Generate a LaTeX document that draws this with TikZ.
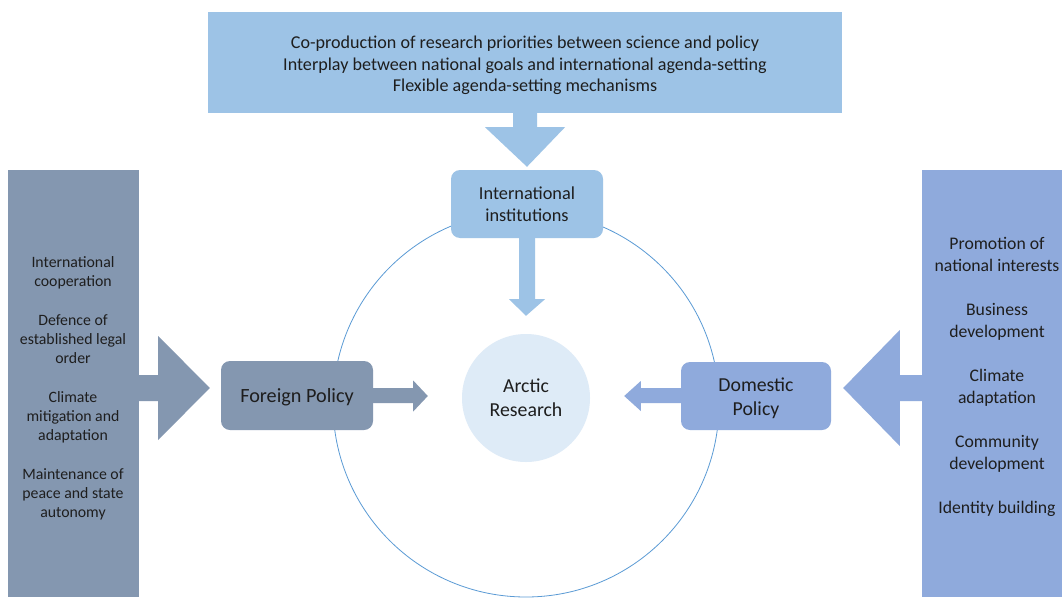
\documentclass[tikz,border=0pt]{standalone}
\usepackage{fontspec}
\setmainfont{Carlito}
\usetikzlibrary{calc}
\definecolor{topblue}{HTML}{9DC3E6}
\definecolor{slate}{HTML}{8497B0}
\definecolor{periw}{HTML}{8FAADC}
\definecolor{pale}{HTML}{DEEBF7}
\definecolor{ring}{HTML}{5B9BD5}
\definecolor{txt}{HTML}{1E1E1E}
\begin{document}
\begin{tikzpicture}[x=1pt,y=-1pt,
  box/.style={draw=none, inner sep=0pt, align=center, text=txt},
  rbox/.style={box, rounded corners=9pt}]
\useasboundingbox (0,0) rectangle (1062,597);
\fill[white] (0,0) rectangle (1062,597);

% big ring
\node[draw=ring, line width=0.8pt, circle, minimum size=386pt, inner sep=0pt] (ringc) at (526,404) {};

% columns
\node[box, fill=slate, minimum width=131pt, minimum height=427pt] (lc) at (73.5,383.5) {};
\node[box, fill=periw, minimum width=140pt, minimum height=427pt] (rc) at (992,383.5) {};

\node[box, font=\fontsize{15.8}{19}\selectfont] (lct) at (73,388)
 {International\\cooperation\\[20pt]Defence of\\established legal\\order\\[20pt]Climate\\mitigation and\\adaptation\\[20pt]Maintenance of\\peace and state\\autonomy};
\node[box, font=\fontsize{17.7}{22}\selectfont] (rct) at (997,376.5)
 {Promotion of\\national interests\\[22pt]Business\\development\\[22pt]Climate\\adaptation\\[22pt]Community\\development\\[22pt]Identity building};

% top box
\node[box, fill=topblue, minimum width=634pt, minimum height=101pt] (top) at (525,62.5) {};
\node[box, font=\fontsize{18.1}{21.5}\selectfont] (topt) at (525,65.5)
 {Co-production of research priorities between science and policy\\Interplay between national goals and international agenda-setting\\Flexible agenda-setting mechanisms};

% international institutions
\node[rbox, fill=topblue, minimum width=152pt, minimum height=68pt, font=\fontsize{18.3}{22}\selectfont] (inst) at (527,204) {International\\institutions};

% arctic research
\node[box, circle, fill=pale, minimum size=128pt, font=\fontsize{19.8}{24}\selectfont] (ar) at (526,398) {Arctic\\Research};

% foreign / domestic policy
\node[rbox, fill=slate, minimum width=152pt, minimum height=69pt] (fp) at (297,395.5) {};
\node[box, font=\fontsize{20.2}{24}\selectfont] (fpt) at (297,397.5) {Foreign Policy};
\node[rbox, fill=periw, minimum width=150pt, minimum height=68pt] (dp) at (756,396) {};
\node[box, font=\fontsize{19.8}{24}\selectfont] (dpt) at (756,398) {Domestic\\Policy};

% top -> inst block arrow
\fill[topblue] ($(top.south)+(-12,0)$) -- ($(top.south)+(12,0)$) -- ($(top.south)+(12,14)$)
  -- ($(top.south)+(40,14)$) -- ($(inst.north)+(0,-3)$) -- ($(top.south)+(-40,14)$)
  -- ($(top.south)+(-12,14)$) -- cycle;

% inst -> arctic block arrow
\fill[topblue] ($(inst.south)+(-8,0)$) -- ($(inst.south)+(8,0)$) -- ($(inst.south)+(8,61)$)
  -- ($(inst.south)+(18,61)$) -- ($(ar.north)+(0,-18)$) -- ($(inst.south)+(-18,61)$)
  -- ($(inst.south)+(-8,61)$) -- cycle;

% foreign -> arctic
\fill[slate] ($(fp.east)+(-1,-7.5)$) -- ($(fp.east)+(40,-7.5)$) -- ($(fp.east)+(40,-15)$)
  -- ($(ar.west)+(-34,-2)$) -- ($(fp.east)+(40,16)$) -- ($(fp.east)+(40,7.5)$)
  -- ($(fp.east)+(-1,7.5)$) -- cycle;

% domestic -> arctic
\fill[periw] ($(dp.west)+(1,-8)$) -- ($(dp.west)+(-40,-8)$) -- ($(dp.west)+(-40,-15)$)
  -- ($(ar.east)+(34,-2)$) -- ($(dp.west)+(-40,15)$) -- ($(dp.west)+(-40,7)$)
  -- ($(dp.west)+(1,7)$) -- cycle;

% left column -> foreign policy
\coordinate (la) at (lc.east |- 0,388);
\fill[slate] ($(la)+(-1,-13)$) -- ($(la)+(19,-13)$) -- ($(la)+(19,-52)$)
  -- ($(fp.west |- la)+(-11,0)$) -- ($(la)+(19,52)$) -- ($(la)+(19,13)$)
  -- ($(la)+(-1,13)$) -- cycle;

% right column -> domestic policy
\coordinate (ra) at (rc.west |- 0,388);
\fill[periw] ($(ra)+(1,-13)$) -- ($(ra)+(-22,-13)$) -- ($(ra)+(-22,-58)$)
  -- ($(dp.east |- ra)+(12,0)$) -- ($(ra)+(-22,58)$) -- ($(ra)+(-22,13)$)
  -- ($(ra)+(1,13)$) -- cycle;
\end{tikzpicture}
\end{document}
